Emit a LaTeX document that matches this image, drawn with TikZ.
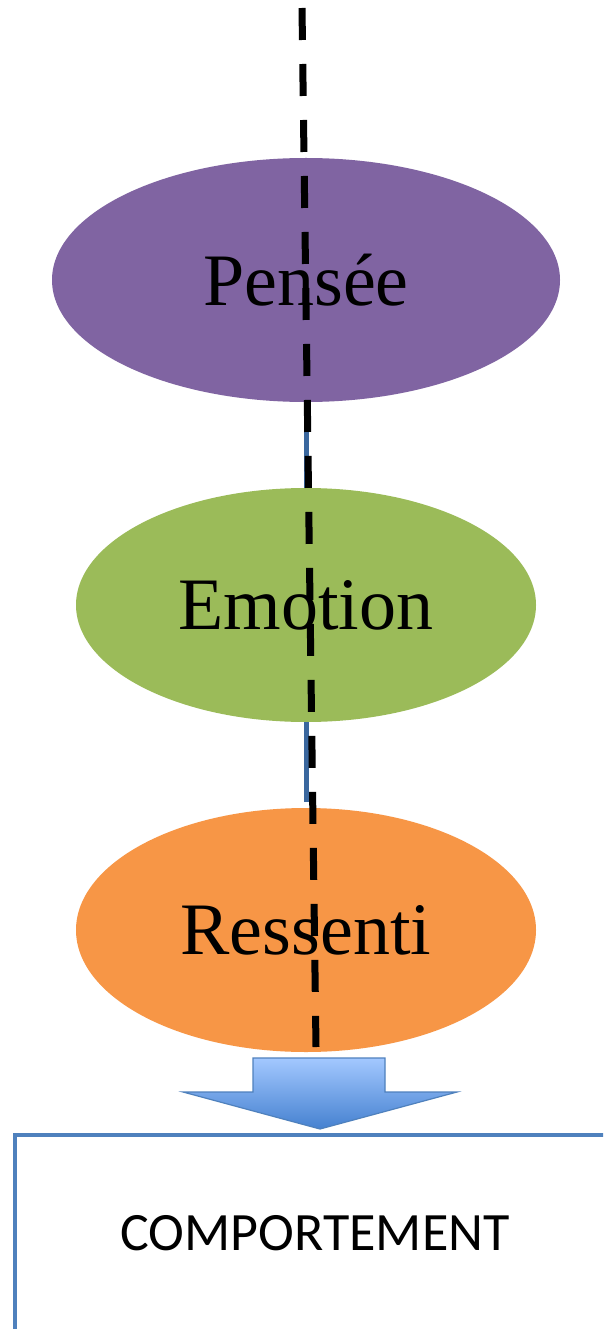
\documentclass[tikz,border=0pt]{standalone}
\usepackage{fontspec}
\setmainfont{Liberation Serif}
\newfontfamily\calibrifont{Carlito}
\usetikzlibrary{shapes.geometric}
\definecolor{penseecol}{HTML}{8064A2}
\definecolor{emotioncol}{HTML}{9BBB59}
\definecolor{ressenticol}{HTML}{F79646}
\definecolor{linkblue}{HTML}{3A679E}
\definecolor{boxblue}{HTML}{4F81BD}
\definecolor{arrowtop}{HTML}{A3C8FF}
\definecolor{arrowbot}{HTML}{4581D0}
\begin{document}
\begin{tikzpicture}[x=1pt,y=-1pt,
  bubble/.style={ellipse, inner sep=0pt, font=\fontsize{74}{80}\selectfont},
  link/.style={draw=linkblue, line width=5pt},
  cutline/.style={draw=black, line width=7pt, dash pattern=on 32pt off 24pt},
  framebox/.style={draw=boxblue, line width=4pt, anchor=north west, inner sep=0pt},
  blockarrow/.style={draw=boxblue, line width=1.2pt, top color=arrowtop, bottom color=arrowbot}
]
\useasboundingbox (0,0) rectangle (603,1329);
\clip (0,0) rectangle (603,1329);
\fill[white] (0,0) rectangle (603,1329);

\node[bubble, fill=penseecol, minimum width=508pt, minimum height=244pt] (pensee) at (306,280) {Pensée};
\node[bubble, fill=emotioncol, minimum width=460pt, minimum height=234pt] (emotion) at (306,605) {Emotion};
\node[bubble, fill=ressenticol, minimum width=460pt, minimum height=244pt] (ressenti) at (306,930) {Ressenti};

\draw[link] (pensee.south) -- (emotion.north);
\draw[link, shorten >=6pt] (emotion.south) -- (ressenti.north);

\shadedraw[blockarrow] (253,1058) -- (385,1058) -- (385,1092) -- (457,1092) -- (320,1129) -- (183,1092) -- (253,1092) -- cycle;

\node[framebox, minimum width=650pt, minimum height=300pt] (box) at (13,1133) {};
\node[font=\calibrifont\fontsize{54}{60}\selectfont] (comport) at (315,1233) {COMPORTEMENT};

\coordinate (cuttop) at (302,8);
\coordinate (cutbot) at (316,1047);
\draw[cutline] (cuttop) -- (cutbot);
\end{tikzpicture}
\end{document}
